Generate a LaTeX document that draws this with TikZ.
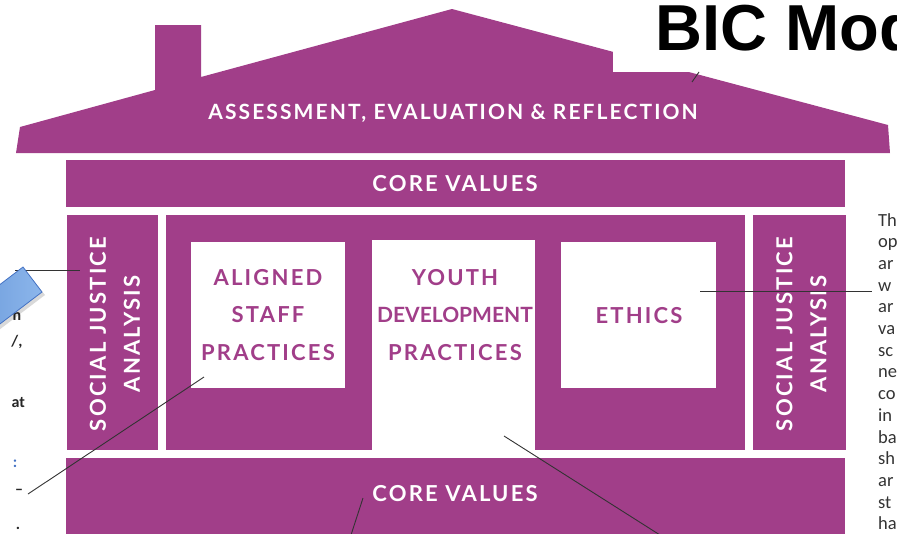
\documentclass[tikz,border=0pt]{standalone}
\usepackage{fontspec}
\setmainfont{Carlito}
\newfontfamily\bicfont[LetterSpace=10]{Lato}
\newfontfamily\bictight[LetterSpace=0]{Lato}
\newfontfamily\titlefont{Liberation Sans}
\usetikzlibrary{positioning}
\definecolor{bicpurple}{RGB}{161,62,137}
\definecolor{arrowblue}{RGB}{100,148,215}
\definecolor{arrowlight}{RGB}{140,182,235}
\definecolor{arrowline}{RGB}{68,114,196}

\begin{document}
\begin{tikzpicture}[
  x=1pt, y=-1pt,
  node distance=8pt and 8pt,
  block/.style={fill=bicpurple,inner sep=0,outer sep=0},
  whitebox/.style={fill=white,inner sep=0,outer sep=0},
  bandtext/.style={text=white,font=\bicfont\bfseries\fontsize{22}{34}\selectfont,align=center,inner sep=0},
  boxtext/.style={text=bicpurple,font=\bicfont\bfseries\fontsize{22}{37.5}\selectfont,align=center,inner sep=0},
  leader/.style={draw=black!80,line width=0.9pt},
  sidetext/.style={font=\fontsize{18.5}{21.7}\selectfont,text=black!80,inner sep=0,align=left},
  frag/.style={font=\bfseries\fontsize{16}{18}\selectfont,text=black!85,inner sep=0},
]
\useasboundingbox (0,0) rectangle (897,533);
\clip (0,0) rectangle (897,533);

% roof with chimney
\fill[bicpurple] (16,153) -- (20,127) -- (155,90) -- (155,25) -- (201,25) -- (201,77)
  -- (452,9) -- (888,125) -- (890,153) -- cycle;
\node[bandtext,font=\bicfont\bfseries\fontsize{21}{25}\selectfont] (roof) at (453,113)
  {ASSESSMENT, EVALUATION \& REFLECTION};

% title
\fill[white] (613,0) rectangle (897,72);
\node[anchor=base west,inner sep=0,font=\titlefont\bfseries\fontsize{65}{65}\selectfont] (title) at (655,50) {BIC Model};

% house body
\node[block,minimum width=579pt,minimum height=235pt] (middle) at (455,332.5) {};
\node[block,minimum width=91pt,minimum height=235pt,left=of middle] (sjal) {};
\node[block,minimum width=93pt,minimum height=235pt,right=of middle] (sjar) {};
\node[block,minimum width=779pt,minimum height=47pt,above=of middle] (coretop) {};
\node[block,minimum width=779pt,minimum height=80pt,below=of middle] (corebot) {};
\node[bandtext] (coretoplabel) at (coretop) {CORE VALUES};
\node[bandtext] (corebotlabel) at (455,494) {CORE VALUES};
\node[bandtext,rotate=90] (sjaltext) at (115,334) {SOCIAL JUSTICE\\ANALYSIS};
\node[bandtext,rotate=90] (sjartext) at (801.5,334) {SOCIAL JUSTICE\\ANALYSIS};

% pillars
\node[whitebox,minimum width=154pt,minimum height=146pt] (staff) at (268,315) {};
\node[whitebox,minimum width=163pt,minimum height=210pt,anchor=north] (youth) at (453.5,240) {};
\node[whitebox,minimum width=155pt,minimum height=146pt] (ethics) at (638.5,315) {};
\node[boxtext] (stafftext) at (staff) {ALIGNED\\STAFF\\PRACTICES};
\node[boxtext] (youthtext) at (455,315)
  {YOUTH\\{\bictight\bfseries\fontsize{21}{37.5}\selectfont DEVELOPMENT}\\PRACTICES};
\node[boxtext] (ethicstext) at (639,316) {ETHICS};

% page text cut off at the sides
\node[sidetext,anchor=north west] (rtext) at (878,213)
  {Th\\op\\ar\\w\\ar\\va\\sc\\ne\\co\\in\\ba\\sh\\ar\\st\\ha};
\node[frag] (fragn) at (17,317) {n};
\node[frag] (fragy) at (17,342) {/,};
\node[frag,anchor=east] (fragat) at (25,403) {at};
\node[frag,text=arrowline] (fragc) at (15,464) {:};
\node[frag] (fragd) at (19,492) {--};
\node[frag] (fragp) at (18,528) {.};

% leader lines
\coordinate (l1a) at (15,270);  \coordinate (l1b) at (80,270);
\coordinate (l2a) at (28,494);  \coordinate (l2b) at (204,377);
\coordinate (l3a) at (504,436); \coordinate (l3b) at (660,535);
\coordinate (l4a) at (351,535); \coordinate (l4b) at (363,498);
\coordinate (l5a) at (700,291); \coordinate (l5b) at (872,291);
\coordinate (l6a) at (692,82);  \coordinate (l6b) at (699,72);
\draw[leader] (l1a) -- (l1b);
\draw[leader] (l2a) -- (l2b);
\draw[leader] (l3a) -- (l3b);
\draw[leader] (l4a) -- (l4b);
\draw[leader] (l5a) -- (l5b);
\draw[leader] (l6a) -- (l6b);

% blue callout, cut off
\fill[black,opacity=0.15] (25,270) -- (45,295) -- (-30,352) -- (-50,327) -- cycle;
\draw[draw=arrowline,line width=0.8pt,left color=arrowblue,right color=arrowlight]
  (23,267) -- (42,292) -- (-33,349) -- (-52,324) -- cycle;
\end{tikzpicture}
\end{document}
